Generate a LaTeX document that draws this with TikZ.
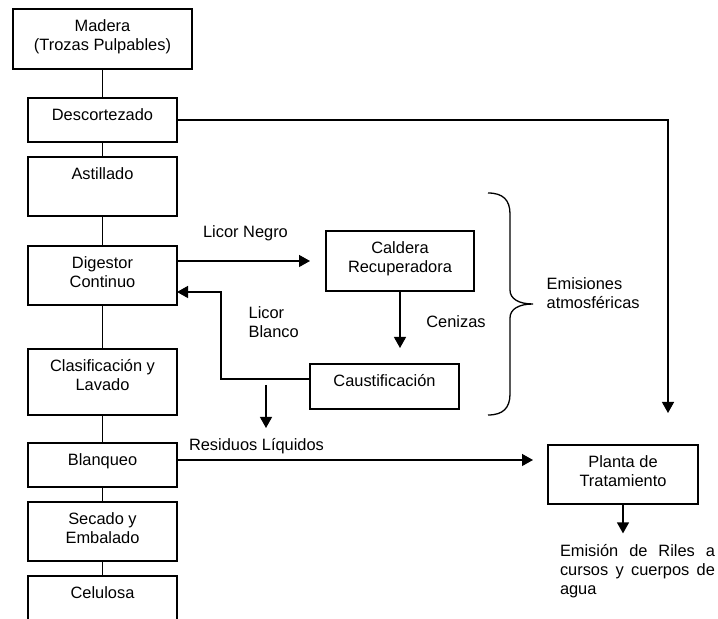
\documentclass[tikz,border=0pt]{standalone}
\usepackage{fontspec}
\setmainfont{Liberation Sans}
\usetikzlibrary{positioning,arrows.meta}

\begin{document}
\begin{tikzpicture}[x=0.5pt, y=-0.5pt, line width=0.65pt,
    every node/.style={font=\fontsize{8.2}{9.5}\selectfont},
    caja/.style={rectangle, draw, align=center, anchor=north, inner xsep=2pt, inner ysep=0pt, outer sep=0pt,
        minimum width=74.5pt, text height=11.3pt, text depth=#1},
    caja/.default=10.7pt,
    doble/.style={caja=#1, text height=20.8pt},
    texto/.style={inner sep=0pt},
    flecha/.style={-{Triangle[length=5.5pt, width=6pt]}}]
    \useasboundingbox (0,0) rectangle (718,619);

    % Madera
    \node[doble=9.2pt, minimum width=89.5pt] (madera) at (102.5,9) {Madera\\(Trozas Pulpables)};

    % Descortezado
    \node[caja, below=14.5pt of madera] (desc) {Descortezado};

    % Astillado
    \node[caja=18.2pt, below=7.5pt of desc] (ast) {Astillado};

    % Digestor Continuo
    \node[doble=8.7pt, below=15pt of ast] (dig) {Digestor\\Continuo};

    % Clasificacion y Lavado
    \node[doble=12.2pt, below=22pt of dig] (clas) {Clasificación y\\Lavado};

    % Blanqueo
    \node[caja, below=14pt of clas] (blan) {Blanqueo};

    % Secado y Embalado
    \node[doble=8.7pt, below=7.5pt of blan] (sec) {Secado y\\Embalado};

    % Celulosa
    \node[caja=18.7pt, below=7.5pt of sec] (cel) {Celulosa};

    % Caldera Recuperadora
    \node[doble=9.2pt, minimum width=74pt] (cald) at (400,231) {Caldera\\Recuperadora};

    % Caustificacion
    \node[caja=11.2pt] (caus) at (384.5,364) {Caustificación};

    % Planta de Tratamiento
    \node[doble=8.7pt, minimum width=75pt] (planta) at (623,445) {Planta de\\Tratamiento};

    % Emision de Riles
    \node[texto, anchor=north, text width=77.5pt, align=left, text height=6.2pt] (emis) at (637.5,543.4)
        {Emisión\hfill de\hfill Riles\hfill a\\cursos\hfill y\hfill cuerpos\hfill de\\agua};

    % Labels
    \node[texto] (licorNegro) at (245.5,233) {Licor Negro};
    \node[texto, align=left, anchor=west] (licorBlanco) at (248,322.5) {Licor\\Blanco};
    \node[texto] (cenizas) at (456,322) {Cenizas};
    \node[texto] (residuos) at (256.5,446) {Residuos Líquidos};
    \node[texto, align=left, anchor=west] (emisiones) at (546,293.5) {Emisiones\\atmosféricas};

    % Free ends
    \coordinate (finDesc) at (668,413);
    \coordinate (codo) at (221,292);
    \coordinate (resA) at (266,385);
    \coordinate (resB) at (266,428);
    \coordinate (finBlan) at (533,460);

    % Connections
    \draw (madera) -- (desc);
    \draw (desc) -- (ast);
    \draw (ast) -- (dig);
    \draw (dig) -- (clas);
    \draw (clas) -- (blan);
    \draw (blan) -- (sec);
    \draw (sec) -- (cel);
    \draw[flecha] (desc.east) -| (finDesc);
    \draw[flecha, shorten >=8pt] (dig.east |- cald.west) -- (cald.west);
    \draw[flecha, shorten >=8pt] (cald.south) -- (cald.south |- caus.north);
    \draw[flecha] ([yshift=3.75pt]caus.west) -| (codo) -- (codo -| dig.east);
    \draw[flecha] (resA) -- (resB);
    \draw[flecha] (blan.east |- finBlan) -- (finBlan);
    \draw[flecha, shorten >=5pt] (planta.south) -- (planta.south |- emis.north);

    % Brace
    \draw (488,193) .. controls (503,193) and (510,200) .. (510,214) -- (510,290)
        .. controls (510,299) and (519,304) .. (533,304)
        .. controls (519,304) and (510,309) .. (510,318) -- (510,394)
        .. controls (510,408) and (503,415) .. (488,415);
\end{tikzpicture}
\end{document}
